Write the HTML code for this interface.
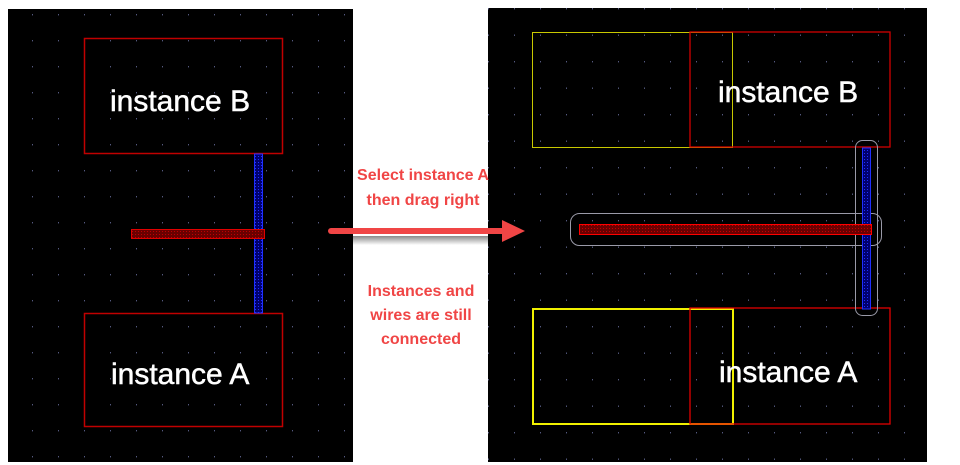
<!DOCTYPE html>
<html><head><meta charset="utf-8"><style>
html,body{margin:0;padding:0;background:#fff;width:960px;height:465px;overflow:hidden}
</style></head><body>
<svg width="960" height="465" xmlns="http://www.w3.org/2000/svg">
<defs>
<pattern id="dots" x="7" y="2" width="26" height="26" patternUnits="userSpaceOnUse">
<rect x="25" y="12" width="1.4" height="1.4" fill="#555a80"/>
</pattern>
<pattern id="dots2" x="489" y="0" width="26" height="26.5" patternUnits="userSpaceOnUse">
<rect x="25" y="8" width="1.4" height="1.4" fill="#555a80"/>
</pattern>
<pattern id="hatchR" width="3" height="3" patternUnits="userSpaceOnUse">
<rect width="3" height="3" fill="#6a0000"/><rect width="1" height="1" fill="#c00000"/>
</pattern>
<pattern id="hatchB" width="3" height="3" patternUnits="userSpaceOnUse">
<rect width="3" height="3" fill="#000070"/><rect width="1" height="1" fill="#2030ff"/>
</pattern>
<linearGradient id="sh" x1="0" y1="0" x2="0" y2="1">
<stop offset="0" stop-color="#888"/><stop offset="1" stop-color="#fff"/>
</linearGradient>
</defs>
<!-- left panel -->
<rect x="8" y="9" width="345" height="453" fill="#000"/>
<rect x="8" y="9" width="345" height="453" fill="url(#dots)"/>
<rect x="84.5" y="38.5" width="198" height="115" fill="none" stroke="#c00000" stroke-width="1.5"/>
<rect x="84.5" y="313.5" width="198" height="113" fill="none" stroke="#c00000" stroke-width="1.5"/>
<rect x="254.5" y="154" width="8" height="159" fill="url(#hatchB)" stroke="#2030ff" stroke-width="1"/>
<rect x="131.5" y="229.5" width="133" height="9" fill="url(#hatchR)" stroke="#e00000" stroke-width="1"/>
<g font-family="Liberation Sans, sans-serif" font-size="30" fill="#fff" stroke="#fff" stroke-width="0.5">
<text x="110" y="111">instance B</text>
<text x="111" y="384">instance A</text>
</g>
<!-- right panel -->
<rect x="488" y="8" width="439" height="454" fill="#000"/>
<rect x="488" y="8" width="439" height="454" fill="url(#dots2)"/>
<rect x="532.5" y="32.5" width="200" height="115" fill="none" stroke="#c8c800" stroke-width="1"/>
<rect x="690" y="32" width="200" height="115" fill="none" stroke="#d00000" stroke-width="1.3"/>
<rect x="533" y="309" width="200" height="115" fill="none" stroke="#f0f000" stroke-width="2"/>
<rect x="690" y="308" width="200" height="116" fill="none" stroke="#e00000" stroke-width="1.3"/>
<rect x="570.5" y="213.5" width="311" height="32" rx="9" fill="none" stroke="#9a9aa8" stroke-width="1"/>
<rect x="855.5" y="140.5" width="22" height="175" rx="7" fill="none" stroke="#9a9aa8" stroke-width="1"/>
<rect x="862.5" y="148" width="8" height="161" fill="url(#hatchB)" stroke="#2030ff" stroke-width="1"/>
<rect x="579.5" y="224.5" width="292" height="10" fill="url(#hatchR)" stroke="#ff0000" stroke-width="1"/>
<g font-family="Liberation Sans, sans-serif" font-size="30" fill="#fff" stroke="#fff" stroke-width="0.5">
<text x="718" y="102">instance B</text>
<text x="719" y="382">instance A</text>
</g>
<!-- middle -->
<rect x="353" y="236" width="135" height="9" fill="url(#sh)"/>
<rect x="328" y="228" width="178" height="6" rx="3" fill="#f04545"/>
<polygon points="502,220 525,231 502,242" fill="#f04545"/>
<g font-family="Liberation Sans, sans-serif" font-size="16" font-weight="bold" fill="#f04545" text-anchor="middle">
<text x="423" y="180">Select instance A</text>
<text x="423" y="205">then drag right</text>
<text x="421" y="296">Instances and</text>
<text x="421" y="320">wires are still</text>
<text x="421" y="344">connected</text>
</g>
</svg>
</body></html>
